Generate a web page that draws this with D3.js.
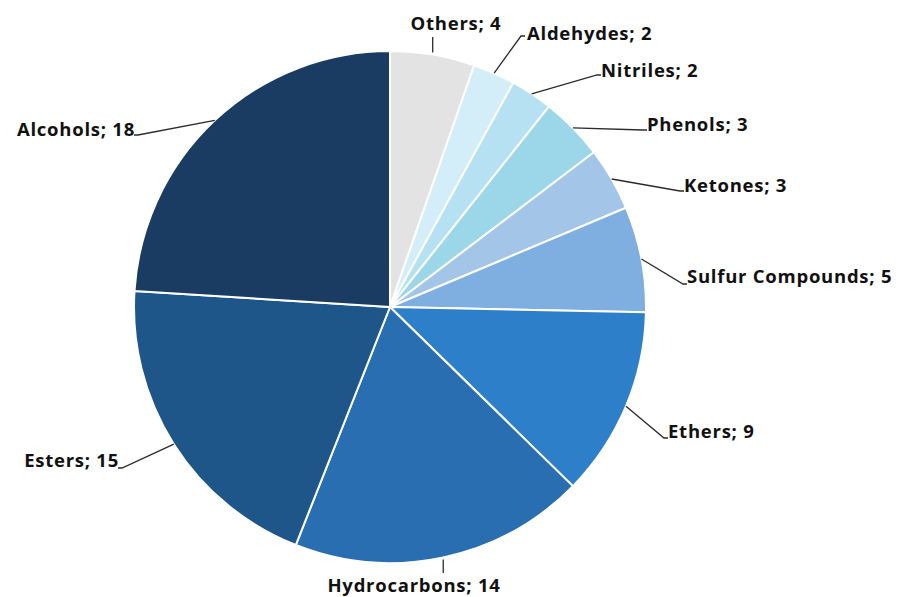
<!DOCTYPE html>
<html>
<head>
<meta charset="utf-8">
<script src="https://cdn.jsdelivr.net/npm/d3@7"></script>
<style>
  html, body { margin: 0; padding: 0; background: #ffffff; }
  svg { display: block; }
  .lbl { font-family: "Open Sans", "Liberation Sans", sans-serif; font-weight: 700; font-size: 18.5px; letter-spacing: 0.75px; fill: #111111; }
  .leader { fill: none; stroke: #2b2b2b; stroke-width: 1.3; }
</style>
</head>
<body>
<svg id="chart" width="899" height="597"></svg>
<script>
// Compound classes, clockwise from 12 o'clock
const categories = ["Others", "Aldehydes", "Nitriles", "Phenols", "Ketones",
                    "Sulfur Compounds", "Ethers", "Hydrocarbons", "Esters", "Alcohols"];
const counts = [4, 2, 2, 3, 3, 5, 9, 14, 15, 18];
const colors = ["#e3e3e3", "#d3eef8", "#b6e1f3", "#9cd7e9", "#a2c5e8",
                "#7eafe0", "#2e7fc9", "#286eb1", "#1f568a", "#1a3c62"];

// Label placement: anchor point of each label text and its alignment
const labelLayout = [
  { x: 456, y: 30,  anchor: "middle", elbow: null },
  { x: 527, y: 40,  anchor: "start",  elbow: [521, 36] },
  { x: 601, y: 77,  anchor: "start",  elbow: [597, 75] },
  { x: 647, y: 131, anchor: "start",  elbow: [643, 130] },
  { x: 684, y: 192, anchor: "start",  elbow: [680, 191] },
  { x: 687, y: 283, anchor: "start",  elbow: [683, 284] },
  { x: 668, y: 438, anchor: "start",  elbow: [664, 438] },
  { x: 414, y: 592, anchor: "middle", elbow: null },
  { x: 119, y: 467, anchor: "end",    elbow: [122, 468] },
  { x: 135, y: 136, anchor: "end",    elbow: [138, 135] }
];

const svg = d3.select("#chart");
const cx = 390, cy = 307, radius = 256;

const data = categories.map((c, i) => ({ name: c, value: counts[i], color: colors[i], layout: labelLayout[i] }));

const pie = d3.pie().value(d => d.value).sort(null).startAngle(0).endAngle(2 * Math.PI);
const arc = d3.arc().innerRadius(0).outerRadius(radius);
const arcs = pie(data);

const g = svg.append("g").attr("transform", `translate(${cx},${cy})`);

g.selectAll("path.slice")
  .data(arcs)
  .join("path")
  .attr("class", "slice")
  .attr("d", arc)
  .attr("fill", d => d.data.color)
  .attr("stroke", "#ffffff")
  .attr("stroke-width", 2)
  .attr("stroke-linejoin", "round");

// Leader lines from the rim at each slice's mid-angle to its label
const rimPoint = d => {
  const a = (d.startAngle + d.endAngle) / 2;
  return [cx + radius * Math.sin(a), cy - radius * Math.cos(a)];
};

svg.selectAll("path.leader")
  .data(arcs)
  .join("path")
  .attr("class", "leader")
  .attr("d", d => {
    const p = rimPoint(d);
    const L = d.data.layout;
    if (!L.elbow) {
      // vertical leader toward a centred label above or below the pie
      const above = L.y < cy;
      const end = above ? L.y + 7 : L.y - 19;
      return d3.line()([[p[0], above ? p[1] - 2 : p[1] + 2], [p[0], end]]);
    }
    const dir = L.anchor === "start" ? 1 : -1;
    return d3.line()([p, L.elbow, [L.elbow[0] + dir * 4, L.elbow[1]]]);
  });

svg.selectAll("text.lbl")
  .data(arcs)
  .join("text")
  .attr("class", "lbl")
  .attr("x", d => d.data.layout.x)
  .attr("y", d => d.data.layout.y)
  .attr("text-anchor", d => d.data.layout.anchor)
  .text(d => `${d.data.name}; ${d.data.value}`);
</script>
</body>
</html>
